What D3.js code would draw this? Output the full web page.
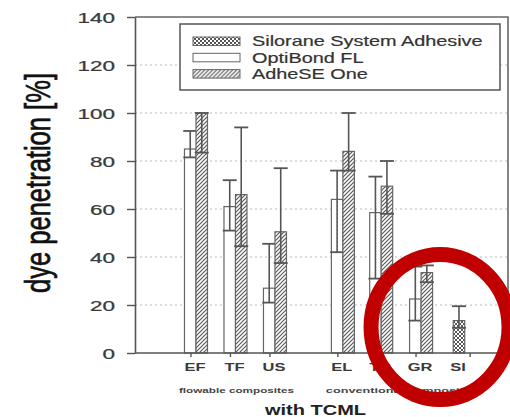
<!DOCTYPE html>
<html>
<head>
<meta charset="utf-8">
<script src="https://cdn.jsdelivr.net/npm/d3@7"></script>
<style>
  body { margin: 0; background: #fff; }
  svg { display: block; }
  text { font-family: "Liberation Sans", Arial, sans-serif; }
</style>
</head>
<body>
<svg id="chart" width="510" height="417"></svg>
<script>
// categories and their slot positions on the x axis (data units)
const categories = ["EF", "TF", "US", "EL", "TC", "GR", "SI"];
const catPos = [1, 2, 3, 4.72, 5.69, 6.7, 7.66];
const xTickPos = [0.86, 1.86, 2.86, 4.58, 5.55, 6.56, 7.93];
const groupNames = ["flowable composites", "conventional composites"];
const groupFirst = [0, 3];
const groupLast = [2, 6];

const seriesNames = ["Silorane System Adhesive", "OptiBond FL", "AdheSE One"];

// dye penetration [%] with lower / upper whisker
const optibond     = [85, 61, 27, 64, 58.5, 22.5, null];
const optibondLow  = [81.5, 51, 21, 42, 31, 13.5, null];
const optibondHigh = [92.5, 72, 45.5, 76, 73.5, 36, null];
const adhese       = [100, 66, 50.5, 84, 69.5, 33.5, null];
const adheseLow    = [83.5, 44.5, 37.5, 76, 58, 29.5, null];
const adheseHigh   = [100, 94, 77, 100, 80, 36.5, null];
const silorane     = [null, null, null, null, null, null, 13.5];
const siloraneLow  = [null, null, null, null, null, null, 10.5];
const siloraneHigh = [null, null, null, null, null, null, 19.5];

const yTickValues = [0, 20, 40, 60, 80, 100, 120, 140];
const yLabel = "dye penetration [%]";
const xTitle = "with TCML";

const plot = { left: 135, right: 508, top: 17, bottom: 353 };
const bw = 11.5;
const capW = 14;
const grey = "#555";

const svg = d3.select("#chart");
const defs = svg.append("defs");

// hatch for AdheSE One
const diag = defs.append("pattern")
    .attr("id", "diag")
    .attr("patternUnits", "userSpaceOnUse")
    .attr("width", 4).attr("height", 4);
diag.append("rect").attr("width", 4).attr("height", 4).attr("fill", "#fff");
diag.append("path")
    .attr("d", "M-1,1 l2,-2 M0,4 l4,-4 M3,5 l2,-2")
    .attr("stroke", "#5a5a5a").attr("stroke-width", 1.2);

// cross hatch for silorane
const cross = defs.append("pattern")
    .attr("id", "cross")
    .attr("patternUnits", "userSpaceOnUse")
    .attr("width", 4).attr("height", 4);
cross.append("rect").attr("width", 4).attr("height", 4).attr("fill", "#fff");
cross.append("path")
    .attr("d", "M0,4 l4,-4 M0,0 l4,4")
    .attr("stroke", "#555").attr("stroke-width", 1);

const x = d3.scaleLinear().domain([0, 8.8]).range([156.5, 504]);
const y = d3.scaleLinear().domain([0, 140]).range([plot.bottom, plot.top]);

// dotted grid
svg.append("g")
    .selectAll("line")
    .data(yTickValues.filter(d => d > 0 && d < 140))
    .join("line")
    .attr("x1", plot.left).attr("x2", plot.right)
    .attr("y1", d => y(d)).attr("y2", d => y(d))
    .attr("stroke", "#bbb")
    .attr("stroke-dasharray", "2,3");

// series table for bars
const seriesList = [
  { name: seriesNames[1], vals: optibond, lo: optibondLow, hi: optibondHigh, fill: "#fff", off: -bw },
  { name: seriesNames[2], vals: adhese, lo: adheseLow, hi: adheseHigh, fill: "url(#diag)", off: 0 },
  { name: seriesNames[0], vals: silorane, lo: siloraneLow, hi: siloraneHigh, fill: "url(#cross)", off: -bw / 2 }
];

seriesList.forEach(s => {
  const rows = categories.map((c, i) => ({ c, p: catPos[i], v: s.vals[i], lo: s.lo[i], hi: s.hi[i] }))
      .filter(d => d.v != null);
  const g = svg.append("g");
  g.selectAll("rect")
      .data(rows)
      .join("rect")
      .attr("x", d => x(d.p) + s.off)
      .attr("y", d => y(d.v))
      .attr("width", bw)
      .attr("height", d => y(0) - y(d.v))
      .attr("fill", s.fill)
      .attr("stroke", "#666")
      .attr("stroke-width", 1.2);

  // error bars
  const cx = d => x(d.p) + s.off + bw / 2;
  g.selectAll("line.err")
      .data(rows)
      .join("line")
      .attr("x1", cx).attr("x2", cx)
      .attr("y1", d => y(d.lo)).attr("y2", d => y(d.hi))
      .attr("stroke", grey).attr("stroke-width", 1.6);
  ["lo", "hi"].forEach(k => {
    g.selectAll("line.cap-" + k)
        .data(rows)
        .join("line")
        .attr("x1", d => cx(d) - capW / 2).attr("x2", d => cx(d) + capW / 2)
        .attr("y1", d => y(d[k])).attr("y2", d => y(d[k]))
        .attr("stroke", grey).attr("stroke-width", 1.8);
  });
});

// y axis
const yAxis = svg.append("g")
    .attr("transform", `translate(${plot.left},0)`)
    .call(d3.axisLeft(y).tickValues(yTickValues).tickSizeInner(8).tickSizeOuter(0));
yAxis.select(".domain").attr("stroke", grey).attr("stroke-width", 1.6);
yAxis.selectAll(".tick line").attr("stroke", grey).attr("stroke-width", 1.4);
yAxis.selectAll(".tick text")
    .attr("x", -20 / 1.5)
    .attr("dy", "0.36em")
    .attr("transform", "scale(1.5,1)")
    .attr("font-size", 15)
    .attr("font-family", "Liberation Sans, Arial, sans-serif")
    .attr("stroke", "#3a3a3a").attr("stroke-width", 0.25)
    .attr("fill", "#3a3a3a");

// x axis
const xAxis = svg.append("g")
    .attr("transform", `translate(0,${plot.bottom})`)
    .call(d3.axisBottom(x).tickValues(xTickPos).tickSizeInner(4).tickSizeOuter(0).tickFormat(""));
xAxis.select(".domain").attr("d", `M${plot.left},0H${plot.right}`).attr("stroke", grey).attr("stroke-width", 1.6);
xAxis.selectAll(".tick line").attr("stroke", grey).attr("stroke-width", 1.4);

// frame top and right
svg.append("path")
    .attr("d", `M${plot.left},${plot.top}H${plot.right}V${plot.bottom}`)
    .attr("fill", "none")
    .attr("stroke", "#666")
    .attr("stroke-width", 1.6);

// category labels
svg.append("g")
    .selectAll("text")
    .data(categories)
    .join("text")
    .attr("transform", (d, i) => `translate(${x(catPos[i]) - 1},371) scale(1.65,1)`)
    .attr("text-anchor", "middle")
    .attr("font-size", 10)
    .attr("font-weight", "bold")
    .attr("fill", "#3a3a3a")
    .text(d => d);

// group labels
svg.append("g")
    .selectAll("text")
    .data(groupNames)
    .join("text")
    .attr("x", (d, i) => x(catPos[groupFirst[i]]) - 17)
    .attr("y", 393)
    .attr("textLength", (d, i) => x(catPos[groupLast[i]]) - x(catPos[groupFirst[i]]) + 36)
    .attr("lengthAdjust", "spacingAndGlyphs")
    .attr("font-size", 7.5)
    .attr("font-weight", "bold")
    .attr("fill", "#444")
    .text(d => d);

// x title
svg.append("text")
    .attr("x", 265).attr("y", 415)
    .attr("textLength", 101)
    .attr("lengthAdjust", "spacingAndGlyphs")
    .attr("font-size", 15)
    .attr("font-weight", "bold")
    .attr("fill", "#222")
    .text(xTitle);

// y title
svg.append("text")
    .attr("transform", "translate(50,293) rotate(-90) scale(1,1.45)")
    .attr("textLength", 220)
    .attr("lengthAdjust", "spacingAndGlyphs")
    .attr("font-size", 24)
    .attr("font-family", "Liberation Sans Narrow, Liberation Sans, Arial, sans-serif")
    .attr("stroke", "#111").attr("stroke-width", 0.5)
    .attr("fill", "#111")
    .text(yLabel);

// legend
const legend = svg.append("g");
legend.append("rect")
    .attr("x", 180).attr("y", 24).attr("width", 320).attr("height", 66)
    .attr("fill", "#fff").attr("stroke", grey).attr("stroke-width", 1.5);
const legendFill = ["url(#cross)", "#fff", "url(#diag)"];
const rowsL = legend.selectAll("g.item")
    .data(seriesNames)
    .join("g")
    .attr("transform", (d, i) => `translate(193,${41 + i * 16.3})`);
rowsL.append("rect")
    .attr("x", 0).attr("y", -4).attr("width", 47).attr("height", 8.5)
    .attr("fill", (d, i) => legendFill[i])
    .attr("stroke", "#666").attr("stroke-width", 1);
rowsL.append("text")
    .attr("transform", "translate(59,5.2) scale(1.37,1)")
    .attr("font-size", 14.5)
    .attr("stroke", "#333").attr("stroke-width", 0.2)
    .attr("fill", "#333")
    .text(d => d);

// red highlight ring round the silorane group
svg.append("ellipse")
    .attr("cx", (x(catPos[5]) + x(catPos[6])) / 2)
    .attr("cy", y(10.8))
    .attr("rx", 69)
    .attr("ry", 72.5)
    .attr("fill", "none")
    .attr("stroke", "#c00000")
    .attr("stroke-width", 15);
</script>
</body>
</html>
